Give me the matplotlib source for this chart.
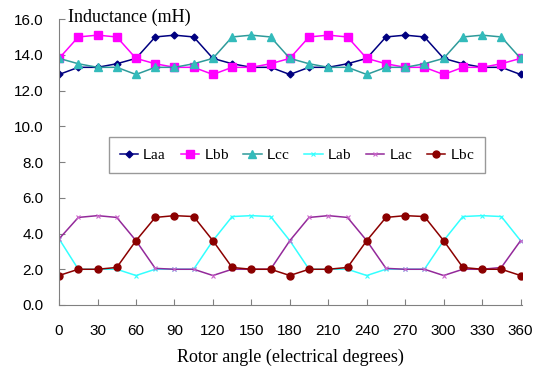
import numpy as np
import matplotlib
matplotlib.use('Agg')
import matplotlib.pyplot as plt

# rotor angle, one point every 15 electrical degrees
angle = list(range(0, 361, 15))

L_aa = [12.9, 13.3, 13.3, 13.5, 13.8, 15.0, 15.1, 15.0, 13.8, 13.5, 13.3, 13.3, 12.9,
        13.3, 13.3, 13.5, 13.8, 15.0, 15.1, 15.0, 13.8, 13.5, 13.3, 13.3, 12.9]
L_bb = [13.8, 15.0, 15.1, 15.0, 13.8, 13.5, 13.3, 13.3, 12.9, 13.3, 13.3, 13.5, 13.8,
        15.0, 15.1, 15.0, 13.8, 13.5, 13.3, 13.3, 12.9, 13.3, 13.3, 13.5, 13.8]
L_cc = [13.8, 13.5, 13.3, 13.3, 12.9, 13.3, 13.3, 13.5, 13.8, 15.0, 15.1, 15.0, 13.8,
        13.5, 13.3, 13.3, 12.9, 13.3, 13.3, 13.5, 13.8, 15.0, 15.1, 15.0, 13.8]
L_ab = [3.7, 2.0, 2.0, 2.0, 1.65, 2.0, 2.0, 2.0, 3.6, 4.95, 5.0, 4.95, 3.6,
        2.0, 2.0, 2.0, 1.65, 2.0, 2.0, 2.0, 3.6, 4.95, 5.0, 4.95, 3.6]
L_ac = [3.7, 4.9, 5.0, 4.9, 3.6, 2.05, 2.0, 2.0, 1.65, 2.0, 2.0, 2.0, 3.6,
        4.9, 5.0, 4.9, 3.6, 2.05, 2.0, 2.0, 1.65, 2.0, 2.0, 2.1, 3.6]
L_bc = [1.65, 2.0, 2.0, 2.1, 3.6, 4.9, 5.0, 4.95, 3.6, 2.1, 2.0, 2.0, 1.65,
        2.0, 2.0, 2.1, 3.6, 4.9, 5.0, 4.95, 3.6, 2.1, 2.0, 2.0, 1.65]

plt.rcParams['font.family'] = 'Liberation Sans'
plt.rcParams['mathtext.fontset'] = 'custom'
plt.rcParams['mathtext.rm'] = 'Liberation Serif'

fig = plt.figure(figsize=(5.47, 3.74), dpi=100)
ax = fig.add_axes([0.108, 0.1845, 0.846, 0.7645])

ax.plot(angle, L_aa, color='#000080', marker='D', ms=3.5, lw=1.1, label=r'L$\mathrm{aa}$')
ax.plot(angle, L_bb, color='#FF00FF', marker='s', ms=5.5, lw=1.1, label=r'L$\mathrm{bb}$')
ax.plot(angle, L_cc, color='#2E9A9A', marker='^', ms=5.5, mfc='#33BBBB', mec='#33BBBB',
        lw=1.1, label=r'L$\mathrm{cc}$')
ax.plot(angle, L_ab, color='#33FFFF', marker='x', ms=3.5, mew=0.8, lw=1.1, label=r'L$\mathrm{ab}$')
ax.plot(angle, L_ac, color='#93299A', marker='x', ms=3.5, mew=0.8, mec='#CC66CC',
        lw=1.1, label=r'L$\mathrm{ac}$')
ax.plot(angle, L_bc, color='#8B0000', marker='o', ms=5, lw=1.1, label=r'L$\mathrm{bc}$')

ax.set_xlim(0, 361)
ax.set_ylim(0, 16)
ax.set_xticks(range(0, 361, 30))
ax.set_yticks(np.arange(0, 16.1, 2))
ax.set_yticklabels(['%.1f' % v for v in np.arange(0, 16.1, 2)])

for s in ['top', 'right']:
	ax.spines[s].set_visible(False)
for s in ['left', 'bottom']:
	ax.spines[s].set_color('#808080')
ax.tick_params(axis='both', direction='in', length=4, color='#808080', labelsize=11)
ax.tick_params(axis='x', pad=14)
ax.tick_params(axis='y', pad=11)

leg = ax.legend(loc='center', bbox_to_anchor=(0.514, 0.524), ncol=6, fontsize=11,
                fancybox=False, edgecolor='#808080', handlelength=1.2,
                handletextpad=0.3, columnspacing=0.95, borderpad=0.7, borderaxespad=0)
leg.get_frame().set_linewidth(1.0)

fig.text(68/547, 1-17/374, 'Inductance (mH)', family='Liberation Serif', fontsize=13,
         va='center', ha='left')
fig.text(290/547, 1-357/374, 'Rotor angle (electrical degrees)', family='Liberation Serif',
         fontsize=13, va='center', ha='center')

fig.savefig('out.png', dpi=100)
